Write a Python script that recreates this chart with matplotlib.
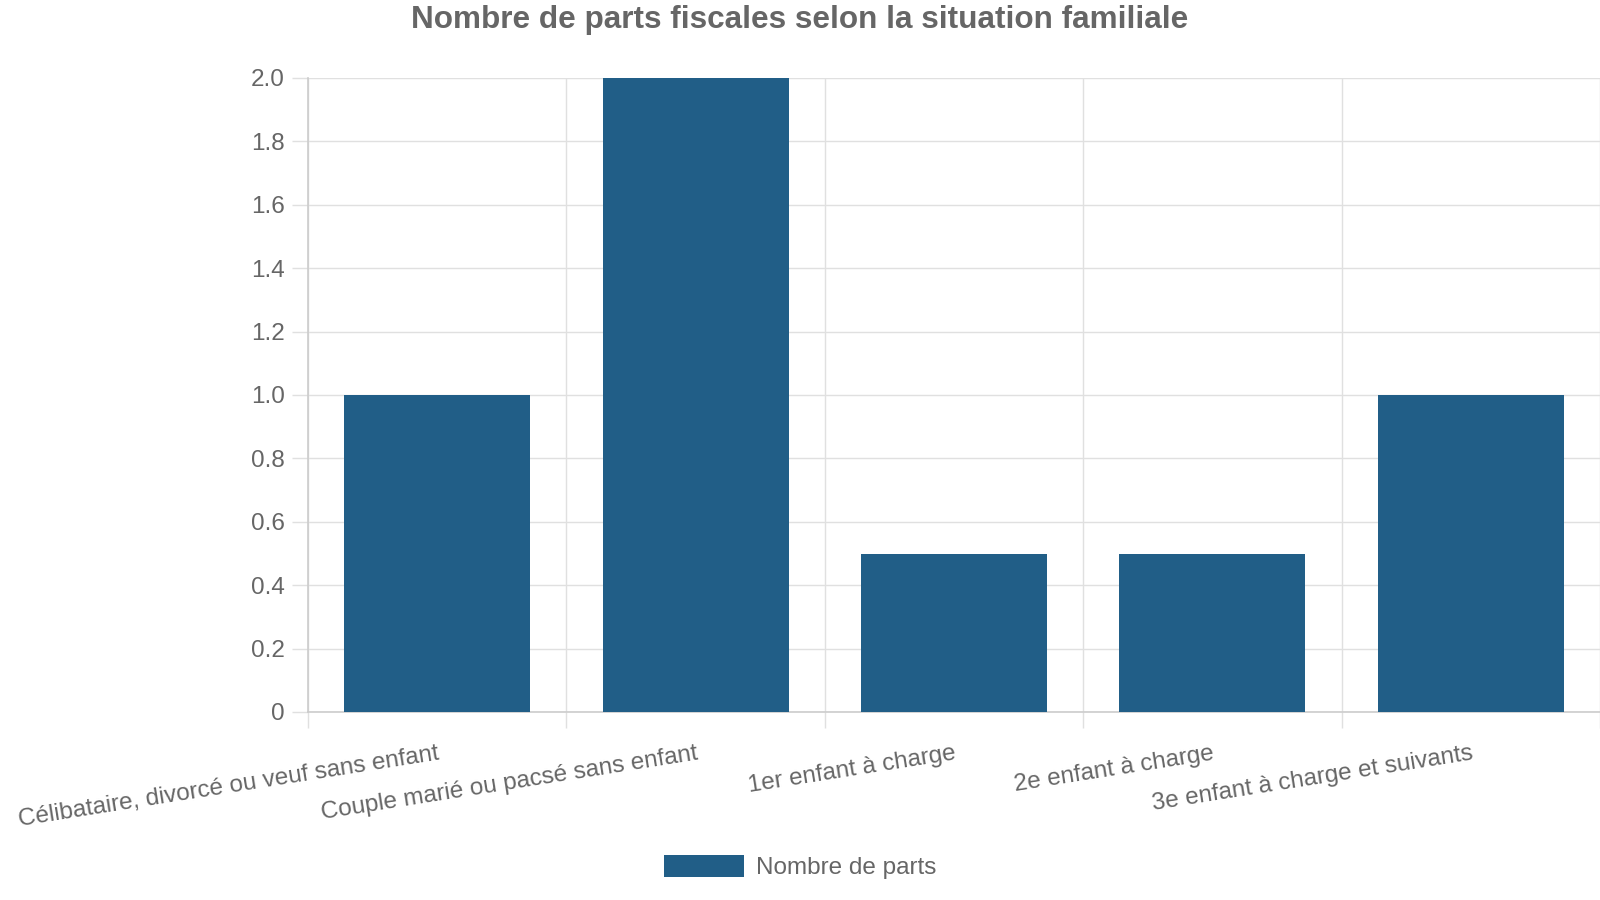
import numpy as np
import matplotlib
matplotlib.use('Agg')
import matplotlib.pyplot as plt
from matplotlib.ticker import FuncFormatter, MultipleLocator

# Données / data
categories = [
    "Célibataire, divorcé ou veuf sans enfant",
    "Couple marié ou pacsé sans enfant",
    "1er enfant à charge",
    "2e enfant à charge",
    "3e enfant à charge et suivants",
]
parts = [1.0, 2.0, 0.5, 0.5, 1.0]
series_label = "Nombre de parts"
title = "Nombre de parts fiscales selon la situation familiale"

plt.rcParams['font.family'] = ['Liberation Sans', 'DejaVu Sans']
text_color = '#666666'
grid_color = '#e0e0e0'
axis_color = '#cccccc'
bar_color = '#215e87'

fig = plt.figure(figsize=(16, 9), dpi=100)
ax = fig.add_axes([308 / 1600, 1 - 712 / 900, 1 - 308 / 1600, (712 - 78) / 900])

x = np.arange(len(categories))
ax.bar(x, parts, width=0.72, color=bar_color, label=series_label, zorder=3)

ax.set_xlim(-0.5, len(categories) - 0.5)
ax.set_ylim(0, 2.0)

# axe y / y axis
ax.yaxis.set_major_locator(MultipleLocator(0.2))
ax.yaxis.set_major_formatter(FuncFormatter(lambda v, p: '0' if abs(v) < 1e-9 else f'{v:.1f}'))
ax.tick_params(axis='y', length=11.5, width=1, color=grid_color, labelsize=17.5,
               labelcolor=text_color, pad=5)
ax.grid(axis='y', color=grid_color, linewidth=1, zorder=0)

# axe x : étiquettes au centre, traits aux limites / labels at centres, ticks at boundaries
ax.set_xticks(x)
ax.set_xticklabels(categories, rotation=9, ha='right', rotation_mode='anchor')
ax.tick_params(axis='x', which='major', length=0, labelsize=17.5, labelcolor=text_color, pad=22)
ax.set_xticks(np.arange(-0.5, len(categories)), minor=True)
ax.tick_params(axis='x', which='minor', length=11.5, width=1, color=grid_color)
ax.grid(axis='x', which='minor', color=grid_color, linewidth=1, zorder=0)

for s in ['top', 'right']:
    ax.spines[s].set_visible(False)
for s in ['left', 'bottom']:
    ax.spines[s].set_color(axis_color)
    ax.spines[s].set_linewidth(1.2)

fig.text(0.5, 1 - 20 / 900, title, ha='center', va='center', fontsize=22.7,
         fontweight='bold', color=text_color)

leg = fig.legend(loc='center', bbox_to_anchor=(0.5, 1 - 867 / 900), frameon=False,
                 fontsize=17.5, handlelength=3.3, handleheight=1.0, handletextpad=0.5)
for t in leg.get_texts():
    t.set_color(text_color)

fig.savefig('out.png', dpi=100)
